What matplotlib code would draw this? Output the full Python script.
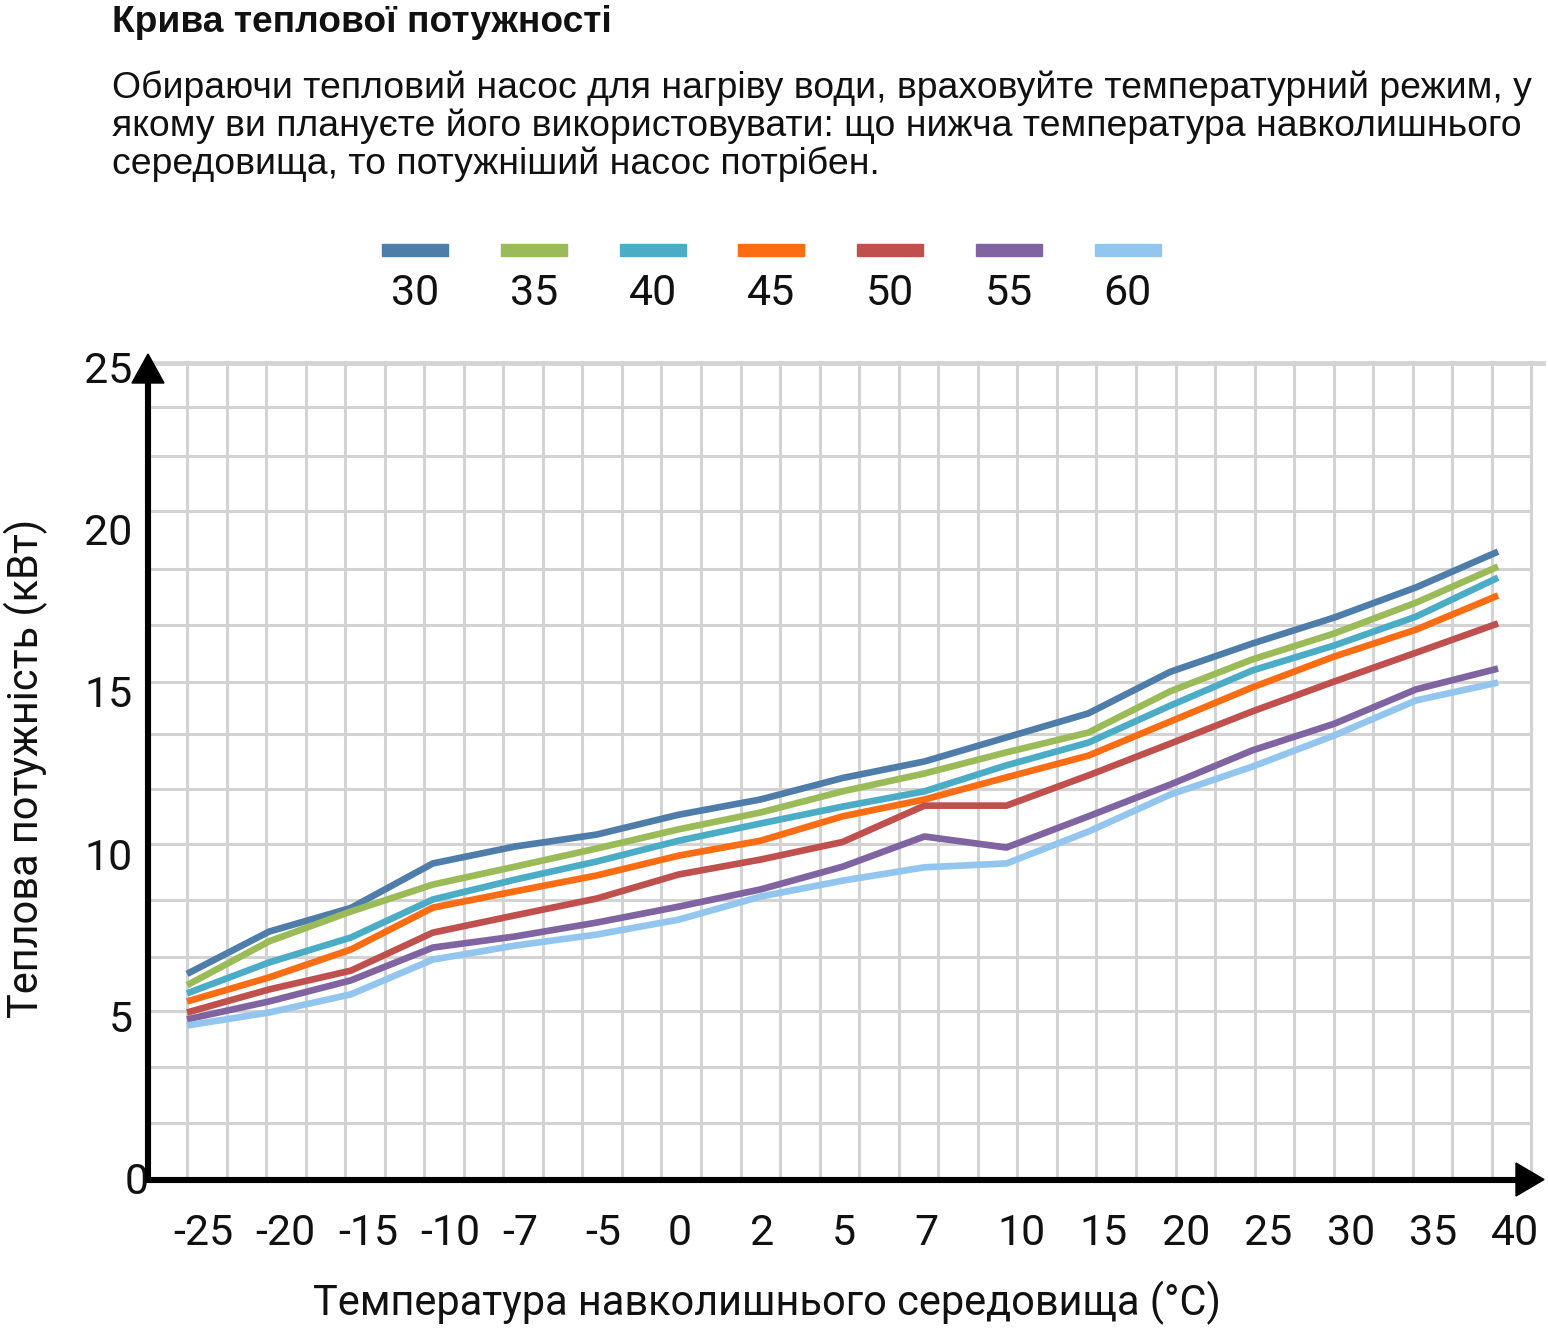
import matplotlib
matplotlib.use("Agg")
import numpy as np
import matplotlib.pyplot as plt
from matplotlib import font_manager
from matplotlib.transforms import ScaledTranslation
from matplotlib.patches import Polygon, Rectangle
from matplotlib.lines import Line2D

# ---------------- data ----------------
temps = ["-25", "-20", "-15", "-10", "-7", "-5", "0", "2", "5", "7",
         "10", "15", "20", "25", "30", "35", "40"]
series_names = ["30", "35", "40", "45", "50", "55", "60"]
p30 = [6.30, 7.60, 8.33, 9.70, 10.22, 10.59, 11.20, 11.67, 12.33, 12.84,
       13.58, 14.32, 15.60, 16.47, 17.27, 18.20, 19.30]
p35 = [5.95, 7.30, 8.22, 9.05, 9.60, 10.16, 10.75, 11.27, 11.92, 12.47,
       13.12, 13.73, 15.00, 15.98, 16.78, 17.73, 18.84]
p40 = [5.70, 6.65, 7.42, 8.59, 9.20, 9.76, 10.40, 10.93, 11.45, 11.92,
       12.72, 13.42, 14.56, 15.64, 16.41, 17.30, 18.50]
p45 = [5.45, 6.19, 7.05, 8.34, 8.84, 9.33, 9.94, 10.40, 11.15, 11.67,
       12.35, 13.02, 14.07, 15.12, 16.07, 16.90, 17.95]
p50 = [5.11, 5.82, 6.40, 7.57, 8.10, 8.62, 9.36, 9.82, 10.36, 11.48,
       11.48, 12.41, 13.39, 14.38, 15.30, 16.19, 17.09]
p55 = [4.90, 5.45, 6.10, 7.11, 7.45, 7.88, 8.37, 8.90, 9.60, 10.53,
       10.19, 11.15, 12.13, 13.18, 14.00, 15.06, 15.70]
p60 = [4.71, 5.11, 5.67, 6.74, 7.17, 7.51, 7.97, 8.68, 9.17, 9.58,
       9.70, 10.68, 11.82, 12.68, 13.64, 14.72, 15.27]
series_values = [p30, p35, p40, p45, p50, p55, p60]
y_ticks = [0, 5, 10, 15, 20, 25]

title = "Крива теплової потужності"
subtitle_lines = [
    "Обираючи тепловий насос для нагріву води, враховуйте температурний режим, у",
    "якому ви плануєте його використовувати: що нижча температура навколишнього",
    "середовища, то потужніший насос потрібен.",
]
xlabel = "Температура навколишнього середовища (°C)"
ylabel = "Теплова потужність (кВт)"

# ---------------- style ----------------
colors = ["#4F7DAA", "#9BBB59", "#4BACC6", "#FC6C12", "#C0504D", "#8064A2", "#93C6EE"]
grid_color = "#D3D3D3"


def pick(cands):
    for c in cands:
        try:
            font_manager.findfont(font_manager.FontProperties(family=c),
                                  fallback_to_default=False)
            return c
        except Exception:
            pass
    return "DejaVu Sans"


arial = pick(["Liberation Sans", "Arial", "DejaVu Sans"])
roboto = pick(["Roboto", "Inter", "DejaVu Sans"])

W, H = 1548, 1335
fig = plt.figure(figsize=(W / 100, H / 100), dpi=100)
fig.patch.set_facecolor("white")


def fx(x):
    return x / W


def fy(y):
    return 1 - y / H


# axes geometry (pixels)
ax_left, ax_right, ax_top, ax_bot = 148, 1531, 362, 1178.5
x0_px, x_step_px = 187.0, 81.94   # data index 0 and spacing
y_unit_px = 32.48

ax = fig.add_axes([fx(ax_left), fy(ax_bot), (ax_right - ax_left) / W, (ax_bot - ax_top) / H])
ax.set_xlim((ax_left - x0_px) / x_step_px, (ax_right - x0_px) / x_step_px)
ax.set_ylim(0, (ax_bot - ax_top) / y_unit_px)
for s in ax.spines.values():
    s.set_visible(False)

# grid
vstep = 39.54 / x_step_px
for k in range(35):
    ax.axvline(k * vstep, color=grid_color, lw=2.2, zorder=1, clip_on=False)
hgrid = [1.72, 3.42, 5.17, 6.83, 8.56, 10.31, 12.0, 13.67, 15.30, 17.03,
         18.78, 20.54, 22.23, 23.74]
for v in hgrid:
    ax.axhline(v, color=grid_color, lw=2.2, zorder=1)
# top border line (extends a little past the frame)
fig.add_artist(Line2D([fx(150), fx(1543)], [fy(363), fy(363)], color=grid_color,
                      lw=3.4, transform=fig.transFigure, zorder=1))

# data lines
xs = np.arange(len(temps))
for name, vals, col in zip(series_names, series_values, colors):
    ax.plot(xs, vals, color=col, lw=4.8, solid_capstyle="butt",
            solid_joinstyle="round", zorder=3, label=name)

# ticks
ax.set_xticks(xs, temps)
ax.set_yticks(y_ticks, [str(v) for v in y_ticks])
ax.tick_params(axis="both", length=0, labelsize=31, labelcolor="#111111")
ax.tick_params(axis="x", pad=25)
ax.tick_params(axis="y", pad=11)
for lab in ax.get_xticklabels() + ax.get_yticklabels():
    lab.set_fontfamily(roboto)
for k, lab in enumerate(ax.get_xticklabels()):
    lab.set_horizontalalignment("left")
    off = (-14 + 0.46 * k) / 100
    lab.set_transform(lab.get_transform() + ScaledTranslation(off, 0, fig.dpi_scale_trans))
ylabs = ax.get_yticklabels()
ylabs[0].set_transform(ylabs[0].get_transform() + ScaledTranslation(0.16, 0, fig.dpi_scale_trans))

# axis arrows (black)
fig.add_artist(Line2D([fx(148), fx(148)], [fy(1182), fy(378)], color="black", lw=4.4,
                      transform=fig.transFigure, zorder=5, solid_capstyle="butt"))
fig.add_artist(Polygon([[fx(132), fy(383)], [fx(164), fy(383)], [fx(148), fy(354)]],
                       closed=True, color="black", transform=fig.transFigure, zorder=5))
fig.add_artist(Line2D([fx(145), fx(1520)], [fy(1179.5), fy(1179.5)], color="black", lw=4.4,
                      transform=fig.transFigure, zorder=5, solid_capstyle="butt"))
fig.add_artist(Polygon([[fx(1516), fy(1163)], [fx(1516), fy(1196)], [fx(1544), fy(1179.5)]],
                       closed=True, color="black", transform=fig.transFigure, zorder=5))

renderer = fig.canvas.get_renderer()


def fit_w(t, target):
    w = t.get_window_extent(renderer).width
    t.set_fontsize(t.get_fontsize() * target / w)


def fit_h(t, target):
    h = t.get_window_extent(renderer).height
    t.set_fontsize(t.get_fontsize() * target / h)


# title & subtitle
tt = fig.text(fx(112), fy(32), title, family=arial, fontweight="bold", fontsize=24,
              ha="left", va="baseline", color="#111111")
fit_w(tt, 500)
subs = []
for line, base in zip(subtitle_lines, [97.5, 136, 174.5]):
    subs.append(fig.text(fx(112), fy(base), line, family=arial, fontsize=24,
                         ha="left", va="baseline", color="#111111"))
fit_w(subs[0], 1420)
for s in subs[1:]:
    s.set_fontsize(subs[0].get_fontsize())

# axis titles
xl = fig.text(fx(767), fy(1315), xlabel, family=roboto, fontsize=26,
              ha="center", va="baseline", color="#111111")
fit_w(xl, 909)
yl = fig.text(fx(26), fy(768), ylabel, family=roboto, fontsize=26, rotation=90,
              ha="center", va="center", color="#111111")
fit_h(yl, 500)

# legend (swatch on top, label below)
for i, (name, col) in enumerate(zip(series_names, colors)):
    cx = 415 + 118.8 * i
    fig.add_artist(Rectangle((fx(cx - 33), fy(256)), 66 / W, 12 / H, color=col,
                             transform=fig.transFigure, zorder=4))
    fig.text(fx(cx), fy(305), name, family=roboto, fontsize=31, ha="center",
             va="baseline", color="#111111")

fig.savefig("out.png", dpi=100, facecolor="white")
